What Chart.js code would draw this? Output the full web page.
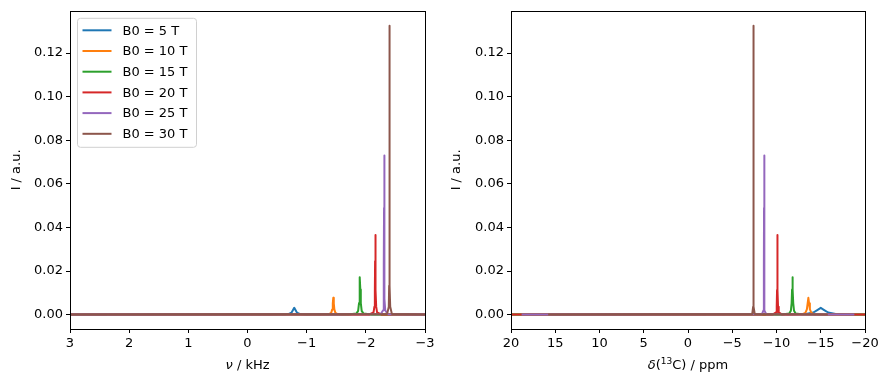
<!DOCTYPE html>
<html>
<head>
<meta charset="utf-8">
<script src="https://cdn.jsdelivr.net/npm/chart.js@4"></script>
<style>
html, body { margin: 0; padding: 0; background: #fff; }
#wrap { position: relative; width: 890px; height: 390px; }
canvas { position: absolute; top: 0; }
</style>
</head>
<body>
<div id="wrap">
  <canvas id="left" width="440" height="390" style="left:0"></canvas>
  <canvas id="right" width="450" height="390" style="left:440px"></canvas>
</div>
<script>
// series names
const labels = ['B0 = 5 T', 'B0 = 10 T', 'B0 = 15 T', 'B0 = 20 T', 'B0 = 25 T', 'B0 = 30 T'];

// 5 T
const nu5  = [3, -0.19, -0.61, -0.70, -0.745, -0.769, -0.79, -0.811, -0.835, -0.88, -0.97, -1.39, -3];
const ppm5 = [25, -3.8, -11.64, -13.32, -14.16, -14.61, -15.0, -15.39, -15.84, -16.68, -18.36, -26.2, -30];
const I5   = [0, 0.000008, 0.000084, 0.00031, 0.00096, 0.0021, 0.0031, 0.0021, 0.00096, 0.00031, 0.000084, 0.000008, 0];
// 10 T
const nu10  = [3, -1.21, -1.378, -1.414, -1.432, -1.4416, -1.45, -1.4584, -1.468, -1.486, -1.522, -1.69, -3];
const ppm10 = [25, -11.34, -12.92, -13.26, -13.43, -13.52, -13.6, -13.68, -13.77, -13.94, -14.28, -15.86, -25];
const I10   = [0, 0.000019, 0.00021, 0.00077, 0.0024, 0.0052, 0.0077, 0.0052, 0.0024, 0.00077, 0.00021, 0.000019, 0];
// 15 T
const nu15  = [3, -1.70, -1.84, -1.87, -1.885, -1.893, -1.90, -1.907, -1.915, -1.93, -1.96, -2.10, -3];
const ppm15 = [25, -10.6, -11.44, -11.62, -11.71, -11.758, -11.8, -11.842, -11.89, -11.98, -12.16, -13.0, -25];
const I15   = [0, 0.000043, 0.00046, 0.00172, 0.0053, 0.0115, 0.0172, 0.0115, 0.0053, 0.00172, 0.00046, 0.000043, 0];
// 20 T
const nu20  = [3, -2.06, -2.13, -2.145, -2.1525, -2.1565, -2.16, -2.1635, -2.1675, -2.175, -2.19, -2.26, -3];
const ppm20 = [25, -9.6, -9.95, -10.025, -10.0625, -10.0825, -10.1, -10.1175, -10.1375, -10.175, -10.25, -10.6, -25];
const I20   = [0, 0.00009, 0.00099, 0.00365, 0.0113, 0.0245, 0.0365, 0.0245, 0.0113, 0.00365, 0.00099, 0.00009, 0];
// 25 T
const nu25  = [3, -2.25, -2.292, -2.301, -2.3055, -2.3079, -2.31, -2.3121, -2.3145, -2.319, -2.328, -2.37, -3];
const ppm25 = [18.8, -8.36, -8.528, -8.564, -8.582, -8.5916, -8.6, -8.6084, -8.618, -8.636, -8.672, -8.84, -18.8];
const I25   = [0, 0.00018, 0.00197, 0.0073, 0.0226, 0.0489, 0.0730, 0.0489, 0.0226, 0.0073, 0.00197, 0.00018, 0];
// 30 T
const nu30  = [3, -2.36, -2.388, -2.394, -2.397, -2.3986, -2.40, -2.4014, -2.403, -2.406, -2.412, -2.44, -3];
const ppm30 = [15.8, -7.26, -7.358, -7.379, -7.3895, -7.3951, -7.4, -7.4049, -7.4105, -7.421, -7.442, -7.54, -15.8];
const I30   = [0, 0.00033, 0.0036, 0.01325, 0.041, 0.0888, 0.1325, 0.0888, 0.041, 0.01325, 0.0036, 0.00033, 0];

// tick labels
const yTicks = [0, 0.02, 0.04, 0.06, 0.08, 0.10, 0.12];
const nuTicks = [3, 2, 1, 0, -1, -2, -3];
const ppmTicks = [20, 15, 10, 5, 0, -5, -10, -15, -20];

const nuSeries = [nu5, nu10, nu15, nu20, nu25, nu30];
const ppmSeries = [ppm5, ppm10, ppm15, ppm20, ppm25, ppm30];
const ISeries = [I5, I10, I15, I20, I25, I30];

const colors = ['#1f77b4', '#ff7f0e', '#2ca02c', '#d62728', '#9467bd', '#8c564b'];
const FONT = "'DejaVu Sans', sans-serif";

function fmt(v, d) {
    const s = Math.abs(v).toFixed(d);
    return v < 0 ? '\u2212' + s : s;
}

// draw text pieces (some italic / superscript) centered at x
function drawPieces(ctx, pieces, cx, cy, rotate) {
    ctx.save();
    ctx.translate(cx, cy);
    if (rotate) ctx.rotate(-Math.PI / 2);
    ctx.textBaseline = 'middle';
    ctx.textAlign = 'left';
    ctx.fillStyle = '#000';
    let total = 0;
    pieces.forEach(p => {
        ctx.font = (p.it ? 'italic ' : '') + (p.sup ? 9 : 13) + 'px ' + FONT;
        p.w = ctx.measureText(p.t).width;
        total += p.w;
    });
    let x = -total / 2;
    pieces.forEach(p => {
        ctx.font = (p.it ? 'italic ' : '') + (p.sup ? 9 : 13) + 'px ' + FONT;
        ctx.fillText(p.t, x, p.sup ? -4 : 0);
        x += p.w;
    });
    ctx.restore();
}

const framePlugin = {
    id: 'frame',
    afterDraw(chart, args, o) {
        const { ctx, chartArea: a } = chart;
        ctx.save();
        ctx.strokeStyle = '#000';
        ctx.lineWidth = 1;
        ctx.strokeRect(Math.round(a.left) + 0.5, Math.round(a.top) + 0.5,
            Math.round(a.right - a.left), Math.round(a.bottom - a.top));
        ctx.restore();

        drawPieces(ctx, o.xTitle, (a.left + a.right) / 2, 366, false);
        drawPieces(ctx, [{ t: 'I / a.u.' }], o.yTitleX, (a.top + a.bottom) / 2, true);

        if (o.legend) {
            // legend box, upper left
            const bx = a.left + 7.5, by = a.top + 7.5, bw = 119, bh = 129;
            ctx.save();
            ctx.fillStyle = 'rgba(255,255,255,0.8)';
            ctx.strokeStyle = '#d0d0d0';
            ctx.lineWidth = 1;
            ctx.beginPath();
            ctx.roundRect(bx, by, bw, bh, 3);
            ctx.fill();
            ctx.stroke();
            ctx.font = '13px ' + FONT;
            ctx.textBaseline = 'middle';
            chart.data.datasets.forEach((ds, i) => {
                const y = by + 12 + i * 20.7;
                ctx.strokeStyle = ds.borderColor;
                ctx.lineWidth = 2;
                ctx.beginPath();
                ctx.moveTo(bx + 5, y);
                ctx.lineTo(bx + 34, y);
                ctx.stroke();
                ctx.fillStyle = '#000';
                ctx.fillText(ds.label, bx + 45, y + 1);
            });
            ctx.restore();
        }
    }
};

function makeChart(id, xSeries, xMin, xMax, xTicks, yAxisWidth, rightPad, frameOpts) {
    const datasets = labels.map((lab, i) => ({
        label: lab,
        data: xSeries[i].map((x, k) => ({ x: x, y: ISeries[i][k] })),
        borderColor: colors[i],
        backgroundColor: colors[i],
        borderWidth: 2,
        borderJoinStyle: 'round',
        pointRadius: 0,
        showLine: true,
        tension: 0,
        clip: 0,
        order: labels.length - 1 - i
    }));

    return new Chart(document.getElementById(id), {
        type: 'scatter',
        data: { datasets: datasets },
        options: {
            responsive: false,
            animation: false,
            layout: { padding: { top: 10, right: rightPad, bottom: 0, left: 0 } },
            plugins: {
                legend: { display: false },
                tooltip: { enabled: false },
                frame: frameOpts
            },
            scales: {
                x: {
                    type: 'linear',
                    min: xMin,
                    max: xMax,
                    reverse: true,
                    border: { display: false },
                    grid: { drawOnChartArea: false, drawTicks: true, tickLength: 4, color: '#000' },
                    ticks: {
                        color: '#000',
                        font: { family: FONT, size: 13 },
                        padding: 3,
                        maxRotation: 0,
                        autoSkip: false,
                        callback: v => fmt(v, 0)
                    },
                    afterBuildTicks: s => { s.ticks = xTicks.map(v => ({ value: v })); },
                    afterFit: s => { s.height = 61; }
                },
                y: {
                    type: 'linear',
                    min: -0.0066,
                    max: 0.1394,
                    border: { display: false },
                    grid: { drawOnChartArea: false, drawTicks: true, tickLength: 4, color: '#000' },
                    ticks: {
                        color: '#000',
                        font: { family: FONT, size: 13 },
                        padding: 3,
                        autoSkip: false,
                        callback: v => fmt(v, 2)
                    },
                    afterBuildTicks: s => { s.ticks = yTicks.map(v => ({ value: v })); },
                    afterFit: s => { s.width = yAxisWidth; }
                }
            }
        },
        plugins: [framePlugin]
    });
}

makeChart('left', nuSeries, -3, 3, nuTicks, 70, 15, {
    xTitle: [{ t: '\u03bd', it: true }, { t: ' / kHz' }],
    yTitleX: 17,
    legend: true
});

makeChart('right', ppmSeries, -20, 20, ppmTicks, 71, 25, {
    xTitle: [{ t: '\u03b4', it: true }, { t: '(' }, { t: '13', sup: true }, { t: 'C) / ppm' }],
    yTitleX: 17,
    legend: false
});
</script>
</body>
</html>
